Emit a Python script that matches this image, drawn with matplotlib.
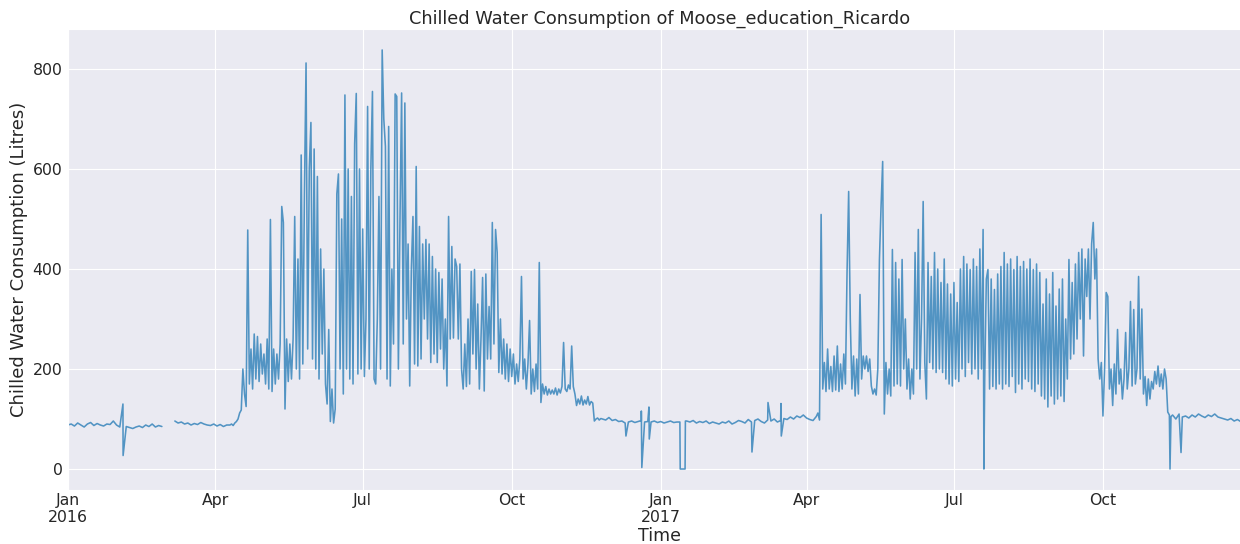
import numpy as np
import pandas as pd
import matplotlib
matplotlib.use("Agg")
import matplotlib.pyplot as plt
import seaborn as sns

# ---------------- data ----------------
# Segments: (start day offset from 2016-01-01, step in days, values)
winter16_a_start, winter16_a_step = 0, 2
winter16_a = [88, 90, 86, 92, 88, 84, 90, 93, 87, 91, 88, 86, 90, 89, 96,
              88, 84, 82, 85, 83, 81, 84, 86, 83, 88, 85, 90, 84, 87, 85]

winter16_b_start, winter16_b_step = 66, 2
winter16_b = [96, 92, 94, 90, 92, 88, 91, 89, 93, 90, 88, 87, 90, 86, 89, 85, 88]

summer16_start, summer16_step = 100, 1
summer16 = [
    88, 90, 87, 92, 95, 100, 112, 118, 200, 150,
    125, 478, 170, 240, 160, 270, 180, 265, 175, 250,
    190, 230, 170, 260, 160, 499, 155, 240, 170, 230,
    180, 250, 525, 493, 120, 260, 175, 250, 180, 260,
    505, 200, 420, 180, 628, 210, 550, 812, 240, 600,
    693, 220, 640, 200, 585, 180, 440, 230, 400, 170,
    130, 279, 95, 160, 92, 120, 550, 590, 200, 500,
    150, 748, 200, 600, 180, 545, 170, 650, 751, 190,
    600, 200, 480, 185, 300, 725, 200, 600, 755, 180,
    170, 300, 545, 200, 838, 700, 645, 180, 685, 166,
    400, 250, 750, 745, 200, 500, 752, 250, 732, 300,
    450, 166, 400, 505, 210, 605, 206, 485, 220, 450,
    300, 459, 260, 450, 213, 425, 230, 400, 213, 393,
    240, 380, 200, 300, 166, 505, 260, 445, 262, 420,
    405, 260, 410, 200, 160, 250, 165, 300, 170, 395,
    230, 399, 200, 330, 160, 260, 383, 156, 390, 220,
    325, 220, 493, 250, 479, 433, 193, 300, 190, 260,
    180, 250, 175, 240, 185, 230, 170, 210, 175, 220,
    385, 180, 220, 160, 210, 297, 150, 200, 155, 210,
    160, 413, 133, 170, 150, 165, 148, 160, 150, 158,
    150, 162, 148, 160, 152, 165, 253, 160, 155, 168,
    160, 246, 165, 150, 127, 140, 130, 146, 128, 138,
    130, 145, 128, 135, 132, 96, 100, 102, 98, 101,
]

winter1617_start, winter1617_step = 330, 2
winter1617 = [
    100, 98, 103, 97, 99, 95, 96, 92, 94, 96, 93, 95, 97, 94, 95,
    94, 96, 93, 95, 92, 94, 96, 93, 94,
    0, 0,
    96, 94, 97, 92, 95, 93, 96, 91, 94, 92, 90, 94, 92, 96, 90, 93, 97, 95,
    92, 99, 94, 97, 100, 95, 92, 98, 96, 100, 94, 97, 101, 99, 104, 100,
    106, 103, 108, 102, 99, 97,
]

summer17_start, summer17_step = 462, 1
summer17 = [
    105, 112, 98, 509, 160, 213, 155, 240, 160, 205,
    155, 226, 158, 246, 155, 210, 160, 230, 170, 393,
    555, 300, 160, 226, 146, 220, 150, 349, 180, 226,
    200, 226, 195, 220, 166, 150, 160, 148, 200, 419,
    525, 615, 110, 213, 150, 200, 146, 439, 166, 413,
    170, 380, 166, 419, 200, 300, 160, 220, 140, 200,
    150, 433, 200, 479, 180, 300, 535, 213, 140, 413,
    213, 385, 200, 433, 193, 400, 200, 373, 193, 420,
    180, 370, 170, 350, 166, 373, 180, 333, 175, 400,
    200, 425, 185, 410, 213, 399, 190, 420, 200, 405,
    180, 440, 200, 479, 180, 380, 399, 160, 380, 165,
    359, 160, 390, 170, 405, 160, 433, 170, 410, 165,
    420, 185, 399, 153, 425, 170, 405, 160, 415, 180,
    400, 175, 420, 160, 399, 155, 410, 170, 393, 146,
    330, 140, 380, 124, 350, 146, 393, 130, 326, 140,
    360, 146, 380, 135, 300, 180, 419, 220, 373, 230,
    410, 260, 433, 300, 440, 226, 420, 345, 440, 300,
    450, 493, 380, 440, 220, 180, 213, 106, 200, 353,
    345, 160, 200, 127, 210, 150, 279, 170, 200, 140,
    180, 273, 160, 200, 335, 166, 319, 170, 200, 385,
    180, 320, 150, 185, 127, 180, 140, 175, 160, 195,
    170, 206, 165, 190, 160, 200, 180, 114, 108, 105,
]

winter17_start, winter17_step = 682, 2
winter17 = [108, 100, 110, 104, 106, 102, 108, 104, 110, 106, 103, 108, 105,
            110, 104, 102, 100, 98, 101, 96, 99, 95, 97, 94, 96]

# isolated spikes / drops / missing data: (day offset, value)
event_days = [33.95, 34.05, 62, 344.5, 354.0, 354.3, 358.7, 358.9, 377.8,
              381.0, 381.2, 422.3, 432.2, 440.2, 440.4, 565.5, 680.4, 687.2]
event_vals = [130, 27, np.nan, 66, 116, 3, 124, 60, 94,
              0, 96, 34, 133, 131, 66, 0, 0, 33]

series_start = "2016-01-01"
series_end = "2017-12-31 23:00"

tick_dates = ["2016-01-01", "2016-04-01", "2016-07-01", "2016-10-01",
              "2017-01-01", "2017-04-01", "2017-07-01", "2017-10-01"]
tick_labels = ["Jan\n2016", "Apr", "Jul", "Oct", "Jan\n2017", "Apr", "Jul", "Oct"]
y_ticks = [0, 200, 400, 600, 800]

title = "Chilled Water Consumption of Moose_education_Ricardo"
ylabel = "Chilled Water Consumption (Litres)"
xlabel = "Time"

# ---------------- build series ----------------
segments = [
    (winter16_a_start, winter16_a_step, winter16_a),
    (winter16_b_start, winter16_b_step, winter16_b),
    (summer16_start, summer16_step, summer16),
    (winter1617_start, winter1617_step, winter1617),
    (summer17_start, summer17_step, summer17),
    (winter17_start, winter17_step, winter17),
]
days, vals = [], []
for start, step, v in segments:
    days.extend(start + step * np.arange(len(v)))
    vals.extend(v)
days.extend(event_days)
vals.extend(event_vals)
days = np.asarray(days, dtype=float)
vals = np.asarray(vals, dtype=float)
order = np.argsort(days, kind="stable")
days, vals = days[order], vals[order]
times = pd.Timestamp(series_start) + pd.to_timedelta(days, unit="D")

# ---------------- plot ----------------
sns.set_style("darkgrid")
plt.rcParams["font.family"] = ["DejaVu Sans"]

fig = plt.figure(figsize=(12.4, 5.44), dpi=100)
ax = fig.add_axes([0.0548, 0.0993, 0.9548, 0.8474])
ax.plot(times, vals, color="#1f77b4", lw=1.15, alpha=0.75)

ax.set_xlim(pd.Timestamp(series_start), pd.Timestamp(series_end))
ax.set_ylim(-41.9, 879.9)
ax.set_yticks(y_ticks)
ax.set_xticks(pd.to_datetime(tick_dates))
ax.set_xticklabels(tick_labels)
ax.tick_params(axis="both", labelsize=11.3, length=0)
ax.tick_params(axis="y", pad=4)
ax.tick_params(axis="x", pad=2)
ax.set_title(title, fontsize=12.8, pad=4)
ax.set_ylabel(ylabel, fontsize=13, labelpad=3)
ax.set_xlabel(xlabel, fontsize=12.5, labelpad=1)

fig.savefig("out.png", dpi=100)
